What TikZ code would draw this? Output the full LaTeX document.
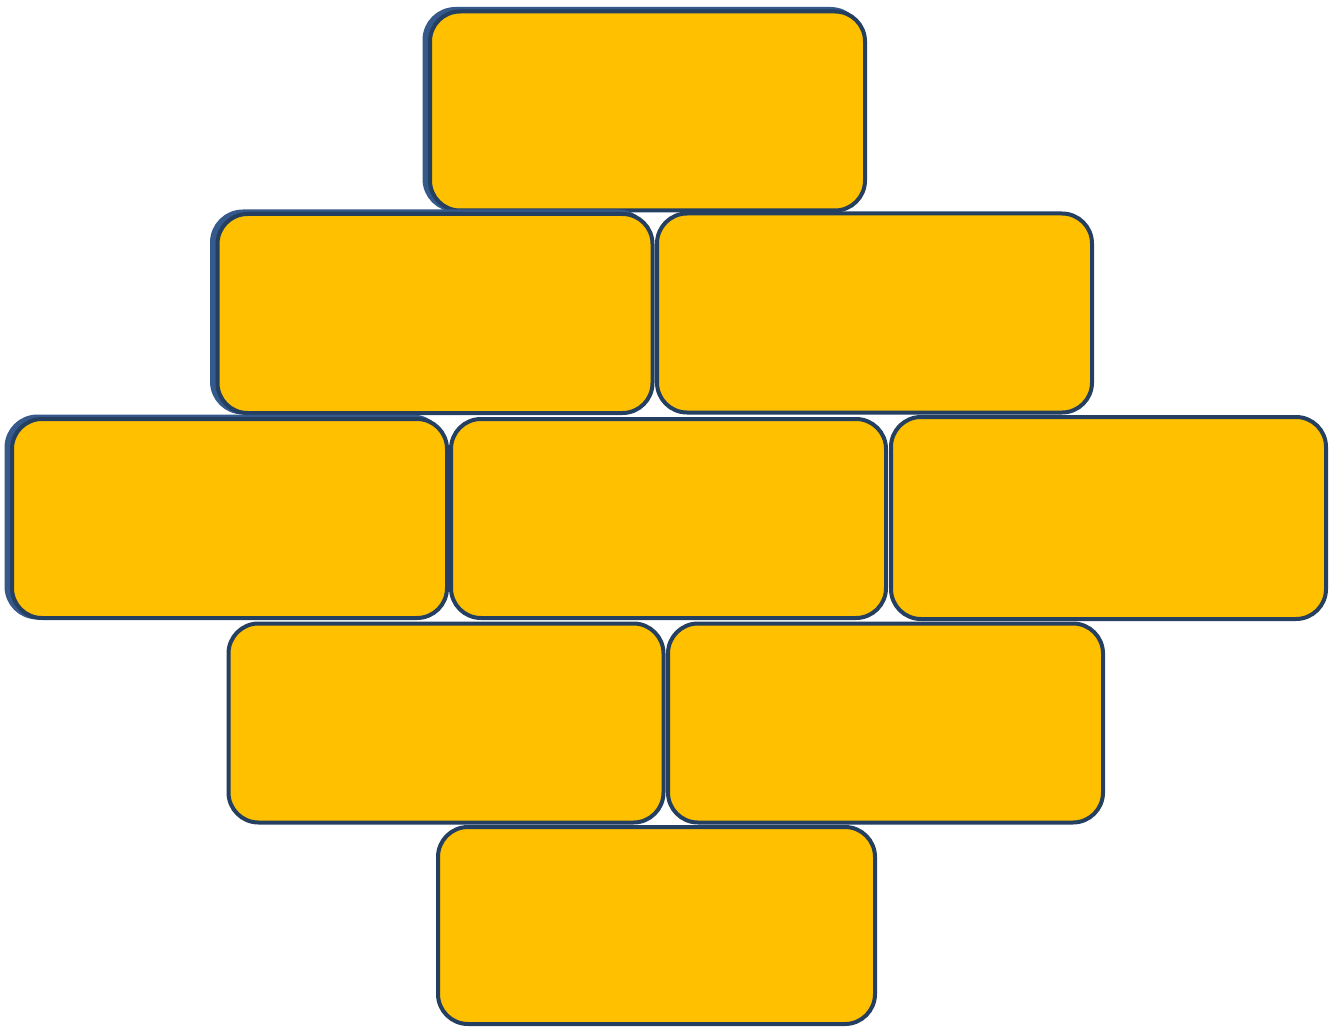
\documentclass[tikz,border=0pt]{standalone}
\usepackage{tikz}
\definecolor{boxfill}{HTML}{FFC000}
\definecolor{boxline}{HTML}{243F60}
\definecolor{backline}{HTML}{35598A}
\begin{document}
\begin{tikzpicture}[x=1pt,y=-1pt,
  brick/.style={draw=boxline, fill=boxfill, line width=4pt, rounded corners=30pt,
    minimum width=435pt, minimum height=199pt, inner sep=0pt, outer sep=0pt},
  brickback/.style={brick, draw=backline, line width=6pt}]
\useasboundingbox (0,0) rectangle (1333,1027);
\node[brickback] (t0) at (643,109.5) {};
\node[brick] (t) at (647.5,111) {};
\node[brickback] (m1b) at (430.5,312) {};
\node[brick] (m1) at (435,313.5) {};
\node[brick] (m2) at (874.5,313) {};
\node[brickback] (c1b) at (225,517) {};
\node[brick] (c1) at (229.5,518.5) {};
\node[brick] (c2) at (668.5,518.5) {};
\node[brick, minimum height=202pt] (c3) at (1108.5,518) {};
\node[brick] (d1) at (446,723) {};
\node[brick] (d2) at (885.5,723) {};
\node[brick, minimum width=437pt, minimum height=197pt] (b) at (656.5,925.5) {};
\end{tikzpicture}
\end{document}
